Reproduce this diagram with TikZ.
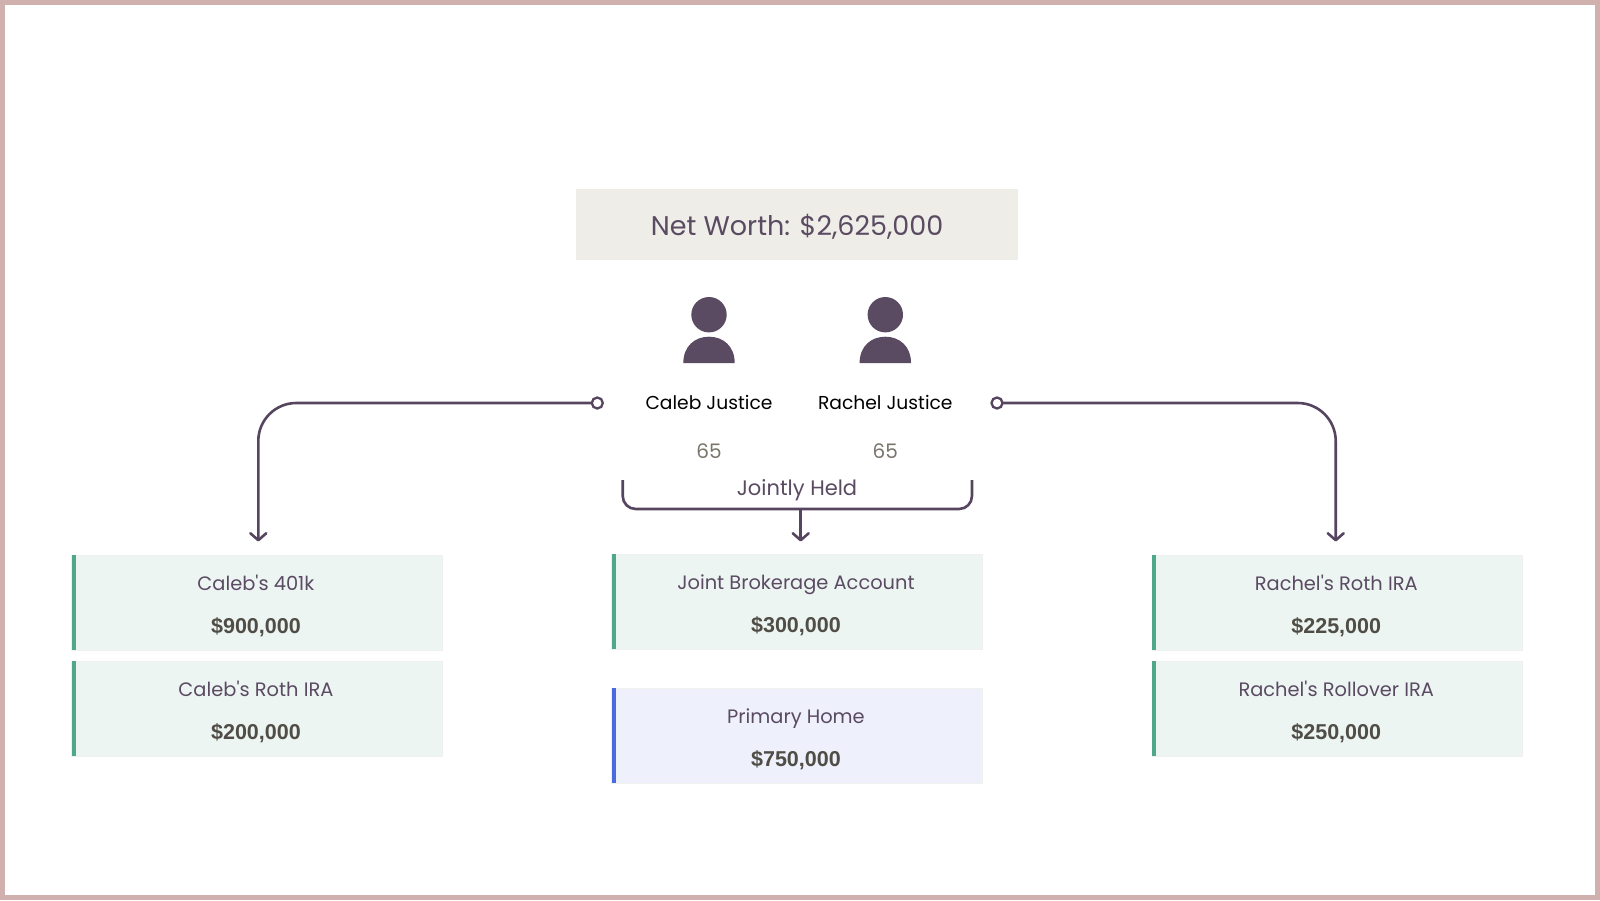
\documentclass[tikz,border=0pt]{standalone}
\usepackage{fontspec}
\setmainfont{Poppins}
\newfontfamily\amountfont{Liberation Sans}
\usetikzlibrary{arrows.meta,calc}
\definecolor{plum}{HTML}{5A4A62}
\definecolor{linec}{HTML}{55455F}
\definecolor{frame}{HTML}{D0B1AD}
\definecolor{netbg}{HTML}{EEEDE8}
\definecolor{cardg}{HTML}{EDF5F3}
\definecolor{cardb}{HTML}{EEF0FB}
\definecolor{cardline}{HTML}{F0F1EC}
\definecolor{barg}{HTML}{4FA88B}
\definecolor{barb}{HTML}{4A6BE0}
\definecolor{amt}{HTML}{4F4D45}
\definecolor{agec}{HTML}{7A756B}
\newcommand{\fs}[1]{\fontsize{#1}{#1}\selectfont}
\tikzset{
  every node/.style={inner sep=0pt,outer sep=0pt},
  cardbox/.style={draw=cardline,line width=0.8pt,minimum width=370.5pt,minimum height=95pt,anchor=north west},
  cardname/.style={text=plum,font=\fs{19.4},anchor=base},
  cardamt/.style={text=amt,font=\amountfont\fs{21.5}\bfseries,anchor=base},
  person/.style={text=black,font=\fs{18.7},anchor=base},
  agelabel/.style={text=agec,font=\fs{20},anchor=base},
  conn/.style={draw=linec,line width=2.6pt},
  arr/.style={conn,-{Straight Barb[length=7pt,width=16pt,line width=2.6pt,round]}},
  hub/.style={circle,draw=linec,line width=2.3pt,fill=white,minimum size=11pt},
  head/.style={circle,fill=plum,minimum size=35.4pt},
}
% name, x, y, fill, bar colour, title, amount
\newcommand{\card}[7]{%
  \node[cardbox,fill=#4] (#1) at (#2,#3) {};
  \fill[#5] (#1.north west) rectangle ($(#1.south west)+(4,0)$);
  \node[cardname] (#1t) at ($(#1.north)+(-1,35.8)$) {#6};
  \node[cardamt] (#1a) at ($(#1.north)+(-1,78.7)$) {#7};
}
% name, x
\newcommand{\persona}[2]{%
  \node[head] (#1) at (#2,314.7) {};
  \fill[plum] (#2-25.7,363) .. controls (#2-25.7,346) and (#2-14,336.7) .. (#2,336.7)
     .. controls (#2+14,336.7) and (#2+25.7,346) .. (#2+25.7,363) -- cycle;
}
\begin{document}
\begin{tikzpicture}[x=1pt,y=-1pt]
\useasboundingbox (0,0) rectangle (1600,900);
\fill[white] (0,0) rectangle (1600,900);
\draw[frame,line width=5pt] (2.5,2.5) rectangle (1597.5,897.5);

\node[fill=netbg,minimum width=442pt,minimum height=71pt] (net) at (797,224.2) {};
\node[text=plum,font=\fs{27},anchor=base] (nett) at (797,235.7) {Net Worth: \$2,625,000};

\persona{p1}{709}
\persona{p2}{885.3}
\node[person] (n1) at (709,409) {Caleb Justice};
\node[person] (n2) at (885.3,409) {Rachel Justice};
\node[agelabel] (a1) at (709,458.5) {65};
\node[agelabel] (a2) at (885.3,458.5) {65};
\node[text=plum,font=\fs{21},anchor=base] (jh) at (797,495) {Jointly Held};

\card{c1}{71.7}{555}{cardg}{barg}{Caleb\textquotesingle s 401k}{\$900,000}
\card{c2}{71.7}{661}{cardg}{barg}{Caleb\textquotesingle s Roth IRA}{\$200,000}
\card{c3}{611.7}{554}{cardg}{barg}{Joint Brokerage Account}{\$300,000}
\card{c4}{611.7}{688}{cardb}{barb}{Primary Home}{\$750,000}
\card{c5}{1152}{555}{cardg}{barg}{Rachel\textquotesingle s Roth IRA}{\$225,000}
\card{c6}{1152}{661}{cardg}{barg}{Rachel\textquotesingle s Rollover IRA}{\$250,000}

\coordinate (tl) at (258.3,541.5);
\coordinate (tr) at (1335.7,541.5);
\coordinate (tc) at (800.7,541.5);
\coordinate (bl) at (622.7,480);
\coordinate (br) at (972,480);
\coordinate (bm) at (800.7,509);

\draw[arr,rounded corners=38pt] (597.3,403) node[hub] (h1) {} (h1.west) -| (tl);
\draw[arr,rounded corners=38pt] (997,403) node[hub] (h2) {} (h2.east) -| (tr);
\draw[conn,rounded corners=13pt,line cap=butt] (bl) |- (bm) -| (br);
\draw[arr] (bm) -- (tc);
\end{tikzpicture}
\end{document}
